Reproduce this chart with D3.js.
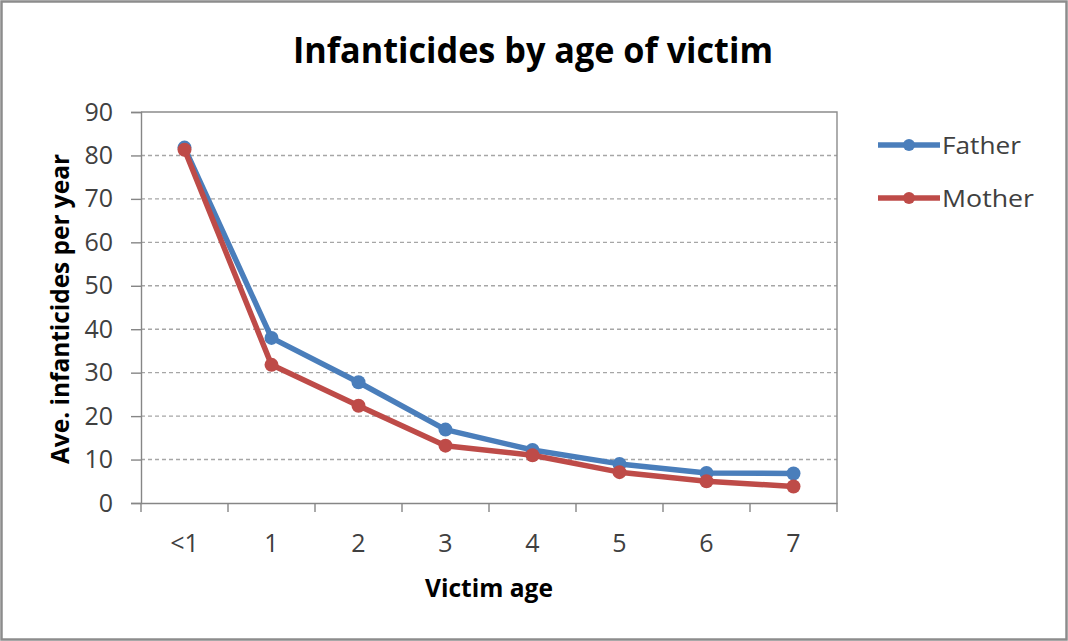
<!DOCTYPE html>
<html><head><meta charset="utf-8">
<script src="https://cdn.jsdelivr.net/npm/d3@7"></script>
<style>
html,body{margin:0;padding:0;background:#fff;}
svg{display:block;font-family:"Open Sans","Noto Sans",sans-serif;}
</style></head>
<body>
<svg id="c" width="1068" height="641"></svg>
<script>
const categories = ["<1","1","2","3","4","5","6","7"];
const fatherValues = [81.8, 38, 27.8, 16.9, 12.2, 9, 6.9, 6.8];
const motherValues = [81.3, 31.8, 22.4, 13.2, 11, 7.1, 5, 3.8];
const yTicks = [0,10,20,30,40,50,60,70,80,90];
const seriesNames = ["Father","Mother"];
const seriesColors = ["#4A7EBB","#BE4B48"];

const svg = d3.select("#c");
// outer frame
svg.append("rect").attr("x",1.5).attr("y",1.5).attr("width",1065).attr("height",638)
  .attr("fill","#fff").attr("stroke","#8c8c8c").attr("stroke-width",2.5);

const L=141, R=837, T=112, B=503;
const x = d3.scaleBand().domain(categories).range([L,R]);
const y = d3.scaleLinear().domain([0,90]).range([B,T]);

// gridlines
svg.append("g").selectAll("line").data(yTicks.filter(d=>d>0 && d<90)).join("line")
  .attr("x1",L).attr("x2",R).attr("y1",d=>y(d)).attr("y2",d=>y(d))
  .attr("stroke","#a6a6a6").attr("stroke-width",1.4).attr("stroke-dasharray","4,3");
// plot border top/right
svg.append("path").attr("d",`M${L},${y(90)}H${R}V${B}`).attr("fill","none").attr("stroke","#8c8c8c").attr("stroke-width",1.4);

// y axis
const yAxis = d3.axisLeft(y).tickValues(yTicks).tickSize(10).tickPadding(18);
const gy = svg.append("g").attr("transform",`translate(${L},0)`).call(yAxis);
gy.select(".domain").attr("stroke","#868686").attr("stroke-width",1.4);
gy.selectAll(".tick line").attr("stroke","#868686").attr("stroke-width",1.4);
gy.selectAll(".tick text").attr("font-size",25).attr("fill","#404040").attr("font-family","Open Sans, sans-serif");

// x axis
const xAxis = d3.axisBottom(x).tickSize(0).tickPadding(31);
const gx = svg.append("g").attr("transform",`translate(0,${B})`).call(xAxis);
gx.select(".domain").attr("stroke","#868686").attr("stroke-width",1.4);
gx.selectAll(".tick text").attr("font-size",25).attr("fill","#404040").attr("font-family","Open Sans, sans-serif");
// band-boundary tick marks
const bounds = categories.map(c=>x(c)).concat([x(categories[categories.length-1])+x.bandwidth()]);
gx.append("g").selectAll("line").data(bounds).join("line")
  .attr("x1",d=>d).attr("x2",d=>d).attr("y1",0).attr("y2",9)
  .attr("stroke","#868686").attr("stroke-width",1.4);

// series
const data = [fatherValues, motherValues];
const line = d3.line().x((d,i)=>x(categories[i])+x.bandwidth()/2).y(d=>y(d));
data.forEach((vals,k)=>{
  const g = svg.append("g");
  g.append("path").datum(vals).attr("d",line).attr("fill","none")
    .attr("stroke",seriesColors[k]).attr("stroke-width",5.5).attr("stroke-linejoin","round");
  g.selectAll("circle").data(vals).join("circle")
    .attr("cx",(d,i)=>x(categories[i])+x.bandwidth()/2).attr("cy",d=>y(d)).attr("r",7)
    .attr("fill",seriesColors[k]);
});

// legend
const legendLen = [79, 92];
seriesNames.forEach((n,k)=>{
  const ly = 145 + k*53;
  svg.append("line").attr("x1",878).attr("x2",940).attr("y1",ly).attr("y2",ly)
    .attr("stroke",seriesColors[k]).attr("stroke-width",5.5);
  svg.append("circle").attr("cx",909).attr("cy",ly).attr("r",6).attr("fill",seriesColors[k]);
  svg.append("text").attr("x",942).attr("y",ly+8.5).attr("font-size",24.5).attr("fill","#404040")
    .attr("textLength",legendLen[k]).attr("lengthAdjust","spacingAndGlyphs").text(n);
});

// title
svg.append("text").attr("x",533).attr("y",63).attr("text-anchor","middle")
  .attr("font-size",36).attr("font-weight","bold").attr("fill","#000")
  .attr("textLength",480).attr("lengthAdjust","spacingAndGlyphs")
  .text("Infanticides by age of victim");
// axis titles
svg.append("text").attr("transform",`translate(69,309) rotate(-90)`).attr("text-anchor","middle")
  .attr("font-size",25).attr("font-weight","bold").attr("fill","#000")
  .attr("textLength",310).attr("lengthAdjust","spacingAndGlyphs")
  .text("Ave. infanticides per year");
svg.append("text").attr("x",489).attr("y",597).attr("text-anchor","middle")
  .attr("font-size",25).attr("font-weight","bold").attr("fill","#000")
  .attr("textLength",128).attr("lengthAdjust","spacingAndGlyphs")
  .text("Victim age");
</script>
</body></html>
